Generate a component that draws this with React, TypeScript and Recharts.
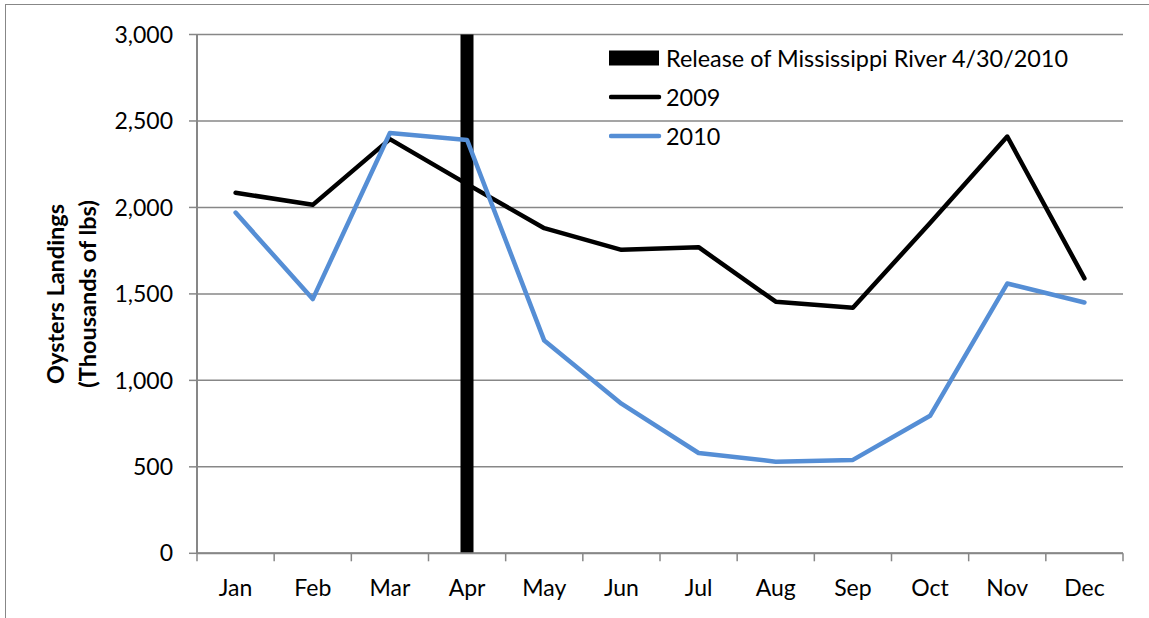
import React from 'react';
import {
  ComposedChart,
  Bar,
  Line,
  XAxis,
  YAxis,
  CartesianGrid,
  Legend,
} from 'recharts';

// Monthly oyster landings, thousands of lbs
const months = ['Jan', 'Feb', 'Mar', 'Apr', 'May', 'Jun', 'Jul', 'Aug', 'Sep', 'Oct', 'Nov', 'Dec'];
const landings2009 = [2085, 2015, 2395, 2135, 1880, 1755, 1770, 1455, 1420, 1910, 2410, 1590];
const landings2010 = [1970, 1470, 2430, 2390, 1230, 865, 580, 530, 540, 795, 1560, 1450];
// Full-height marker for the river release month
const releaseMarker: (number | null)[] = [null, null, null, 3000, null, null, null, null, null, null, null, null];

const yTicks = [0, 500, 1000, 1500, 2000, 2500, 3000];

const releaseLabel = 'Release of Mississippi River 4/30/2010';
const legendOrder = [releaseLabel, '2009', '2010'];

const data = months.map((m, i) => ({
  month: m,
  release: releaseMarker[i],
  y2009: landings2009[i],
  y2010: landings2010[i],
}));

const CHART_W = 1149;
const CHART_H = 618;
const MARGIN = { top: 34.5, right: 26, left: 0, bottom: 0 };
const Y_AXIS_W = 197;
const PLOT_W = CHART_W - MARGIN.left - MARGIN.right - Y_AXIS_W;

const FONT = 'Lato, "Open Sans", sans-serif';
const GRID = '#878787';
const BLUE = '#558ED5';

const fmt = (v: number) => v.toLocaleString('en-US');

// Month label centred in its band, with tick marks on the band boundaries
const MonthTick = (props: any) => {
  const { x, y, payload, index, visibleTicksCount } = props;
  const half =
    payload && typeof payload.offset === 'number' && payload.offset > 0
      ? payload.offset
      : PLOT_W / months.length / 2;
  const isLast = index === (visibleTicksCount ?? months.length) - 1;
  return (
    <g>
      <line x1={x - half} y1={y} x2={x - half} y2={y + 8} stroke={GRID} strokeWidth={1.5} />
      {isLast && <line x1={x + half} y1={y} x2={x + half} y2={y + 8} stroke={GRID} strokeWidth={1.5} />}
      <text x={x} y={y + 42.7} textAnchor="middle" style={{ fontFamily: FONT, fontSize: 23, fill: '#000' }}>
        {payload.value}
      </text>
    </g>
  );
};

const YTitle = (props: any) => {
  const vb = props.viewBox || { x: 0, y: 0, width: 0, height: 0 };
  const cy = vb.y + vb.height / 2;
  const b1 = vb.x + 64;
  const b2 = vb.x + 96;
  const style = { fontFamily: FONT, fontSize: 23.5, fontWeight: 700, fill: '#000' } as const;
  return (
    <g>
      <text x={b1} y={cy} textAnchor="middle" transform={`rotate(-90 ${b1} ${cy})`} style={style}>
        Oysters Landings
      </text>
      <text x={b2} y={cy} textAnchor="middle" transform={`rotate(-90 ${b2} ${cy})`} style={style}>
        (Thousands of lbs)
      </text>
    </g>
  );
};

const LegendBox = (props: any) => {
  const payload = [...(props.payload || [])].sort(
    (a: any, b: any) => legendOrder.indexOf(a.value) - legendOrder.indexOf(b.value),
  );
  return (
    <div style={{ fontFamily: FONT, fontSize: 23.4, color: '#000' }}>
      {payload.map((entry: any) => (
        <div key={entry.value} style={{ display: 'flex', alignItems: 'center', height: 39 }}>
          <svg width={57} height={16} style={{ flex: 'none' }}>
            {entry.type === 'rect' ? (
              <rect x={0} y={0.5} width={50} height={15} fill={entry.color} />
            ) : (
              <line x1={2} y1={8} x2={50} y2={8} stroke={entry.color} strokeWidth={4.5} strokeLinecap="round" />
            )}
          </svg>
          <span style={{ whiteSpace: 'nowrap' }}>{entry.value}</span>
        </div>
      ))}
    </div>
  );
};

export default function App() {
  return (
    <div style={{ position: 'absolute', left: 0, top: 0, width: CHART_W, height: CHART_H, overflow: 'hidden', background: '#fff' }}>
      <div
        style={{
          position: 'absolute',
          left: 5,
          top: 4,
          width: 2000,
          height: 2000,
          borderLeft: `1.5px solid ${GRID}`,
          borderTop: `1.5px solid ${GRID}`,
        }}
      />
      <div style={{ position: 'absolute', left: 0, top: 0 }}>
        <ComposedChart width={CHART_W} height={CHART_H} data={data} margin={MARGIN}>
          <CartesianGrid vertical={false} stroke={GRID} strokeWidth={1.5} />
          <XAxis
            dataKey="month"
            height={64.7}
            axisLine={{ stroke: GRID, strokeWidth: 2 }}
            tickLine={false}
            tickSize={0}
            tickMargin={0}
            interval={0}
            tick={<MonthTick />}
          />
          <YAxis
            width={Y_AXIS_W}
            domain={[0, 3000]}
            ticks={yTicks}
            interval={0}
            tickFormatter={fmt}
            tickSize={8}
            tickMargin={16}
            axisLine={{ stroke: GRID, strokeWidth: 2 }}
            tickLine={{ stroke: GRID, strokeWidth: 1.5 }}
            tick={{ fontFamily: FONT, fontSize: 23, fill: '#000' }}
            label={<YTitle />}
          />
          <Legend
            layout="vertical"
            align="center"
            verticalAlign="middle"
            itemSorter={(item: any) => legendOrder.indexOf(item.value)}
            content={<LegendBox />}
            wrapperStyle={{ top: 38.5, left: 609, width: 'auto', height: 'auto' }}
          />
          <Bar dataKey="release" name={releaseLabel} fill="#000" barSize={13} isAnimationActive={false} />
          <Line
            dataKey="y2009"
            name="2009"
            stroke="#000"
            strokeWidth={4.5}
            strokeLinejoin="round"
            strokeLinecap="round"
            dot={false}
            activeDot={false}
            isAnimationActive={false}
          />
          <Line
            dataKey="y2010"
            name="2010"
            stroke={BLUE}
            strokeWidth={4.5}
            strokeLinejoin="round"
            strokeLinecap="round"
            dot={false}
            activeDot={false}
            isAnimationActive={false}
          />
        </ComposedChart>
      </div>
    </div>
  );
}
